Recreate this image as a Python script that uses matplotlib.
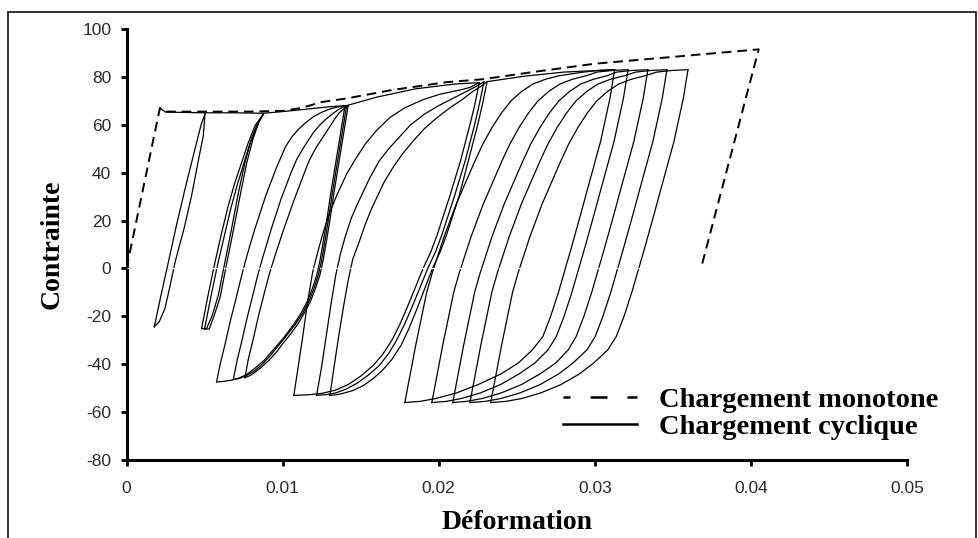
import matplotlib
matplotlib.use("Agg")
import matplotlib.pyplot as plt
from matplotlib.lines import Line2D
from matplotlib.patches import Rectangle

# ---------------- data ----------------
x_ticks = [0, 0.01, 0.02, 0.03, 0.04, 0.05]
x_tick_labels = ["0", "0.01", "0.02", "0.03", "0.04", "0.05"]
y_ticks = [-80, -60, -40, -20, 0, 20, 40, 60, 80, 100]
y_tick_labels = ["-80", "-60", "-40", "-20", "0", "20", "40", "60", "80", "100"]

# monotonic loading (dashed)
mono_strain = [0, 0.00214, 0.0025, 0.0050, 0.0080, 0.0100, 0.0112, 0.0125, 0.0141,
               0.0170, 0.0205, 0.0228, 0.0260, 0.0300, 0.0335, 0.0370, 0.0405, 0.0368]
mono_stress = [0, 67.0, 65.5, 65.5, 65.5, 65.8, 67.0, 69.5, 71.0,
               74.5, 77.8, 79.0, 82.0, 85.5, 87.5, 89.5, 91.5, 0]

# cyclic loading: envelope segments (solid)
env1_strain = [0.00214, 0.0025, 0.0050, 0.0070, 0.00876]
env1_stress = [67.0, 65.3, 65.0, 65.0, 64.8]
env2_strain = [0.00876, 0.0100, 0.0115, 0.0128, 0.0140]
env2_stress = [64.8, 65.5, 66.5, 67.4, 68.0]
env3_strain = [0.0141, 0.0160, 0.0185, 0.0210, 0.0226]
env3_stress = [68.0, 71.5, 75.0, 77.0, 77.6]
env4_strain = [0.0231, 0.0255, 0.0280, 0.03127]
env4_stress = [78.0, 80.3, 82.0, 83.0]

# ---- loops A (small, stress -25 .. 65)
A1_up_strain = [0.00178, 0.0022, 0.00268, 0.0032, 0.00375, 0.0042, 0.0046, 0.0048, 0.00503]
A1_up_stress = [-24.4, -11.5, 2.6, 18, 33.2, 45, 55.4, 60.5, 64.5]
A1_dn_strain = [0.00503, 0.00492, 0.0046, 0.00417, 0.0037, 0.00311, 0.0028, 0.00246, 0.0021, 0.00178]
A1_dn_stress = [64.5, 55.4, 45, 30.4, 17, 2.6, -7, -16.8, -22.2, -24.4]

A2_up_strain = [0.00481, 0.0052, 0.00567, 0.0061, 0.00652, 0.00695, 0.00738, 0.0078, 0.00823, 0.00876]
A2_up_stress = [-25.1, -12, 2.6, 15, 26.2, 36, 44.3, 52.5, 59.6, 64.4]
A2_dn_strain = [0.00876, 0.00844, 0.0080, 0.00759, 0.00715, 0.00673, 0.0063, 0.00588, 0.0055, 0.00513, 0.00481]
A2_dn_stress = [64.4, 61.0, 54, 44.3, 31, 16.5, 2.5, -11.2, -19.5, -25.1, -25.1]

A3_up_strain = [0.00500, 0.0054, 0.00585, 0.0063, 0.00668, 0.0071, 0.00750, 0.0079, 0.00830, 0.00876]
A3_up_stress = [-25.3, -12, 2.0, 14.5, 25.0, 35, 43.5, 52, 59.0, 64.4]
A3_dn_strain = [0.00876, 0.00850, 0.0081, 0.00770, 0.00728, 0.00685, 0.0064, 0.00600, 0.0056, 0.00530, 0.00500]
A3_dn_stress = [64.4, 61.5, 54, 44.0, 30.5, 16.0, 1.5, -12.0, -20, -25.3, -25.3]

# ---- loops B (stress -47 .. 68)
B1_up_strain = [0.00577, 0.0060, 0.0063, 0.00665, 0.0070, 0.0073, 0.0076, 0.0079, 0.0082, 0.00855,
                0.0089, 0.00925, 0.0096, 0.0099, 0.0102, 0.0106, 0.0110, 0.0115, 0.0120, 0.0125,
                0.0130, 0.0135, 0.0140]
B1_up_stress = [-47.4, -40, -32, -22, -13, -5, 2.6, 9.5, 16, 23,
                30, 36, 42, 46.5, 51, 55, 58, 61, 63.5, 65.2,
                66.5, 67.4, 68]
B1_dn_strain = [0.0140, 0.0137, 0.0134, 0.0131, 0.01285, 0.0126, 0.0124, 0.0122, 0.0119, 0.0116,
                0.0112, 0.0107, 0.0100, 0.0094, 0.0088, 0.0082, 0.0077, 0.0072, 0.0067, 0.0062, 0.00577]
B1_dn_stress = [68, 56, 44, 32, 21, 11, 3.5, -2.5, -8.5, -13.5,
                -18.5, -23.5, -29.5, -34, -38.5, -41.8, -44.3, -45.8, -46.7, -47.2, -47.4]

B2_up_strain = [0.00684, 0.0071, 0.0074, 0.00775, 0.0081, 0.0084, 0.0087, 0.0090, 0.0093, 0.0096,
                0.0099, 0.01025, 0.0106, 0.0109, 0.0113, 0.0117, 0.0120, 0.0124, 0.0128, 0.0132,
                0.0135, 0.0138, 0.0141]
B2_up_stress = [-46.4, -38, -30, -20, -11, -3, 4, 10.5, 17, 23,
                29, 35, 41, 45.5, 50, 54, 57, 60, 62.5, 64.6,
                66, 67.2, 68]
B2_dn_strain = [0.0141, 0.0138, 0.0135, 0.0132, 0.01295, 0.0127, 0.0125, 0.0123, 0.0120, 0.0117,
                0.0113, 0.0108, 0.0102, 0.0097, 0.0092, 0.0087, 0.0082, 0.0077, 0.0073, 0.00684]
B2_dn_stress = [68, 56, 44, 32, 21, 11, 3.5, -2.5, -8.5, -13.5,
                -18.5, -23.5, -28.5, -32.5, -36.5, -40, -42.8, -44.7, -45.8, -46.4]

B3_up_strain = [0.00759, 0.0078, 0.0081, 0.00845, 0.0088, 0.0091, 0.0094, 0.0097, 0.0100, 0.01035,
                0.0107, 0.01105, 0.0114, 0.0117, 0.0121, 0.0125, 0.0128, 0.0131, 0.0134, 0.0136,
                0.0138, 0.0140, 0.0142]
B3_up_stress = [-45.6, -38, -30, -20, -11, -3.5, 3, 9, 15, 21.5,
                28, 34, 40, 45, 50, 54, 57, 60, 63, 64.8,
                66, 67.2, 68]
B3_dn_strain = [0.0142, 0.0139, 0.0136, 0.0133, 0.01305, 0.0128, 0.0126, 0.0124, 0.0121, 0.0118,
                0.0114, 0.0110, 0.0105, 0.0100, 0.0096, 0.0091, 0.0086, 0.0082, 0.0079, 0.00759]
B3_dn_stress = [68, 56, 44, 32, 21, 11, 3.5, -2.5, -8.5, -13.5,
                -18.5, -23, -27.5, -31.5, -35, -38.5, -41.5, -43.5, -44.8, -45.6]

# ---- loops C (stress -53 .. 78)
C1_up_strain = [0.01072, 0.0110, 0.0113, 0.0116, 0.01194, 0.0123, 0.0126, 0.0130, 0.0135, 0.0141,
                0.0147, 0.0153, 0.0160, 0.01687, 0.0178, 0.0190, 0.0201, 0.02135, 0.0220, 0.0226]
C1_up_stress = [-53, -41, -28, -14, -1, 8, 15, 23, 31, 39.4,
                46, 52, 57.5, 63, 67, 70.5, 72.8, 74.5, 75.6, 77.6]
C1_dn_strain = [0.0226, 0.0223, 0.0220, 0.0217, 0.0214, 0.0207, 0.0199, 0.0195, 0.0190, 0.0185,
                0.0180, 0.0175, 0.0170, 0.0164, 0.0158, 0.0150, 0.0142, 0.0134, 0.0125, 0.0116, 0.01072]
C1_dn_stress = [77.6, 68, 60, 52.5, 45, 30, 14, 7, 0, -8,
                -16, -23.5, -30, -36, -40.5, -45, -48.5, -50.8, -52.2, -52.8, -53]

C2_up_strain = [0.01218, 0.0125, 0.0128, 0.0131, 0.0134, 0.0137, 0.0140, 0.0144, 0.0148, 0.0156,
                0.0162, 0.0168, 0.0175, 0.0182, 0.0191, 0.0200, 0.0209, 0.0218, 0.0224, 0.0229]
C2_up_stress = [-53, -41, -28, -15, -3, 6, 13, 21, 27, 38,
                45, 50, 55, 60, 64.5, 68, 71, 74, 76, 78]
C2_dn_strain = [0.0229, 0.0226, 0.0223, 0.0220, 0.0217, 0.0210, 0.0202, 0.0198, 0.0193, 0.0188,
                0.0183, 0.0178, 0.0173, 0.0168, 0.0162, 0.0155, 0.0148, 0.0141, 0.0134, 0.0128, 0.01218]
C2_dn_stress = [78, 68.5, 60, 52.5, 45, 30, 14, 7, 0, -8,
                -16, -23.5, -30, -35.5, -40.5, -44.5, -47.8, -50.3, -52, -52.7, -53]

C3_up_strain = [0.01303, 0.0133, 0.0136, 0.0139, 0.0142, 0.0145, 0.0149, 0.0153, 0.0157, 0.0165,
                0.0171, 0.0177, 0.0184, 0.0191, 0.0199, 0.0207, 0.0215, 0.0222, 0.0227, 0.0231]
C3_up_stress = [-53, -41, -28, -16, -5, 4, 11, 18.5, 25, 36,
                42.5, 48, 53.5, 58.5, 63, 67, 70.5, 74, 76, 78]
C3_dn_strain = [0.0231, 0.0228, 0.0225, 0.0222, 0.0219, 0.0213, 0.0205, 0.0201, 0.0196, 0.0191,
                0.0186, 0.0181, 0.0176, 0.0170, 0.0164, 0.0158, 0.0152, 0.0145, 0.0138, 0.0134, 0.01303]
C3_dn_stress = [78, 68.5, 60, 52.5, 45, 30, 14, 7, 0, -8.5,
                -17, -25, -32, -38, -42.5, -46, -48.8, -51, -52.3, -52.8, -53]

# ---- loops D (stress -56 .. 83)
D_up_stress = [-56, -44, -32, -21, -10, -2, 5, 13, 20, 27, 33, 39,
               45, 52, 59, 65, 70, 74, 77, 79, 80.5, 82, 82.7, 83]
D_dn_stress = [83, 77, 71, 62, 53, 43.5, 34, 22, 8, -1, -10, -20, -28.5,
               -34, -39.5, -44, -48.5, -52, -54.3, -55.5, -56]

D1_up_strain = [0.01783, 0.01818, 0.01853, 0.01888, 0.01923, 0.01958, 0.01993, 0.02033, 0.02073, 0.02113,
                0.02153, 0.02193, 0.02233, 0.02283, 0.02343, 0.02403, 0.02463, 0.02533, 0.02603, 0.02683,
                0.02773, 0.02927, 0.03027, 0.03127]
D1_dn_strain = [0.03127, 0.03112, 0.03097, 0.03067, 0.03037, 0.02997, 0.02957, 0.02907, 0.02847, 0.02807,
                0.02767, 0.02717, 0.02667, 0.02600, 0.02510, 0.02400, 0.02253, 0.02113, 0.01983, 0.01883, 0.01783]

D2_up_strain = [0.01956, 0.01991, 0.02026, 0.02061, 0.02096, 0.02131, 0.02166, 0.02206, 0.02246, 0.02286,
                0.02326, 0.02366, 0.02406, 0.02456, 0.02516, 0.02576, 0.02636, 0.02706, 0.02776, 0.02856,
                0.02946, 0.03013, 0.03113, 0.03213]
D2_dn_strain = [0.03213, 0.03198, 0.03183, 0.03153, 0.03123, 0.03083, 0.03043, 0.02993, 0.02933, 0.02893,
                0.02853, 0.02803, 0.02753, 0.02700, 0.02616, 0.02516, 0.02396, 0.02266, 0.02146, 0.02051, 0.01956]

D3_up_strain = [0.0209, 0.02125, 0.0216, 0.02195, 0.0223, 0.02265, 0.0230, 0.0234, 0.0238, 0.0242,
                0.0246, 0.0250, 0.0254, 0.0259, 0.0265, 0.0271, 0.0277, 0.0284, 0.0291, 0.0299,
                0.0308, 0.0314, 0.0324, 0.0334]
D3_dn_strain = [0.0334, 0.03325, 0.0331, 0.0328, 0.0325, 0.0321, 0.0317, 0.0312, 0.0306, 0.0302,
                0.0298, 0.0293, 0.0288, 0.0283, 0.0275, 0.0265, 0.0253, 0.0240, 0.0228, 0.0218, 0.0209]

D4_up_strain = [0.0220, 0.02235, 0.0227, 0.02305, 0.0234, 0.02375, 0.0241, 0.0245, 0.0249, 0.0253,
                0.0257, 0.0261, 0.0265, 0.0270, 0.0276, 0.0282, 0.0288, 0.0295, 0.0302, 0.0310,
                0.0319, 0.03262, 0.03362, 0.03462]
D4_dn_strain = [0.03462, 0.03447, 0.03432, 0.03402, 0.03372, 0.03332, 0.03292, 0.03242, 0.03182, 0.03142,
                0.03102, 0.03052, 0.03002, 0.0295, 0.0286, 0.0277, 0.0265, 0.0252, 0.0240, 0.0230, 0.0220]

D5_up_strain = [0.02333, 0.02368, 0.02403, 0.02438, 0.02473, 0.02508, 0.02543, 0.02583, 0.02623, 0.02663,
                0.02703, 0.02743, 0.02783, 0.02833, 0.02893, 0.02953, 0.03013, 0.03083, 0.03153, 0.03233,
                0.03323, 0.03397, 0.03497, 0.03597]
D5_dn_strain = [0.03597, 0.03582, 0.03567, 0.03537, 0.03507, 0.03467, 0.03427, 0.03377, 0.03317, 0.03277,
                0.03237, 0.03187, 0.03137, 0.03083, 0.02993, 0.02903, 0.02783, 0.02653, 0.02533, 0.02433, 0.02333]

legend_labels = ["Chargement monotone", "Chargement cyclique"]
x_label = "Déformation"
y_label = "Contrainte"

# ---------------- figure ----------------
W, H = 979, 538
fig = plt.figure(figsize=(W / 100, H / 100), dpi=100)
fig.patch.set_facecolor("white")
ax = fig.add_axes([126.5 / W, 1 - 460 / H, (907 - 126.5) / W, (460 - 29) / H])

line_kw = dict(color="black", lw=0.9, solid_joinstyle="round", zorder=3)

branches = [
    (env1_strain, env1_stress), (env2_strain, env2_stress),
    (env3_strain, env3_stress), (env4_strain, env4_stress),
    (A1_up_strain, A1_up_stress), (A1_dn_strain, A1_dn_stress),
    (A2_up_strain, A2_up_stress), (A2_dn_strain, A2_dn_stress),
    (A3_up_strain, A3_up_stress), (A3_dn_strain, A3_dn_stress),
    (B1_up_strain, B1_up_stress), (B1_dn_strain, B1_dn_stress),
    (B2_up_strain, B2_up_stress), (B2_dn_strain, B2_dn_stress),
    (B3_up_strain, B3_up_stress), (B3_dn_strain, B3_dn_stress),
    (C1_up_strain, C1_up_stress), (C1_dn_strain, C1_dn_stress),
    (C2_up_strain, C2_up_stress), (C2_dn_strain, C2_dn_stress),
    (C3_up_strain, C3_up_stress), (C3_dn_strain, C3_dn_stress),
    (D1_up_strain, D_up_stress), (D1_dn_strain, D_dn_stress),
    (D2_up_strain, D_up_stress), (D2_dn_strain, D_dn_stress),
    (D3_up_strain, D_up_stress), (D3_dn_strain, D_dn_stress),
    (D4_up_strain, D_up_stress), (D4_dn_strain, D_dn_stress),
    (D5_up_strain, D_up_stress), (D5_dn_strain, D_dn_stress),
]
for sx, sy in branches:
    ax.plot(sx, sy, **line_kw)

ax.plot(mono_strain, mono_stress, color="black", lw=1.4, dashes=(5, 3), zorder=4)

# faint white dashed trace at zero stress
ax.axhline(0, color="white", lw=0.9, dashes=(8, 3), zorder=5)

ax.set_xlim(0, 0.05)
ax.set_ylim(-80, 100)
ax.set_xticks(x_ticks)
ax.set_xticklabels(x_tick_labels)
ax.set_yticks(y_ticks)
ax.set_yticklabels(y_tick_labels)

for side in ("top", "right"):
    ax.spines[side].set_visible(False)
for side in ("left", "bottom"):
    ax.spines[side].set_linewidth(2.2)
    ax.spines[side].set_color("black")

ax.tick_params(axis="both", direction="out", length=4, width=2, colors="black",
               labelcolor="#2a2a2a")
ax.tick_params(axis="x", pad=11)
ax.tick_params(axis="y", pad=7)
for lab in ax.get_xticklabels() + ax.get_yticklabels():
    lab.set_fontfamily(["Liberation Sans", "DejaVu Sans"])
    lab.set_fontsize(12.5)

serif_bold = dict(family=["Liberation Serif", "DejaVu Serif"], weight="bold", size=20)
ax.set_xlabel(x_label, fontdict=serif_bold, labelpad=10)
ax.set_ylabel(y_label, fontdict=serif_bold, labelpad=13)

handles = [Line2D([], [], color="black", lw=1.8, ls=(4, (6.8, 8))),
           Line2D([], [], color="black", lw=1.8)]
leg = ax.legend(handles, legend_labels, loc="lower left", bbox_to_anchor=(0.527, -0.014),
                frameon=False, handlelength=2.6, handletextpad=0.74, labelspacing=0.05,
                prop=dict(family=["Liberation Serif", "DejaVu Serif"], weight="bold", size=20.5))

# outer frame of the picture
fig.add_artist(Rectangle((8 / W, -0.05), (976 - 8) / W, 1.05 - 12 / H, transform=fig.transFigure,
                         fill=False, lw=1.3, edgecolor="#222222", clip_on=False))

fig.savefig("out.png", dpi=100, facecolor="white")
